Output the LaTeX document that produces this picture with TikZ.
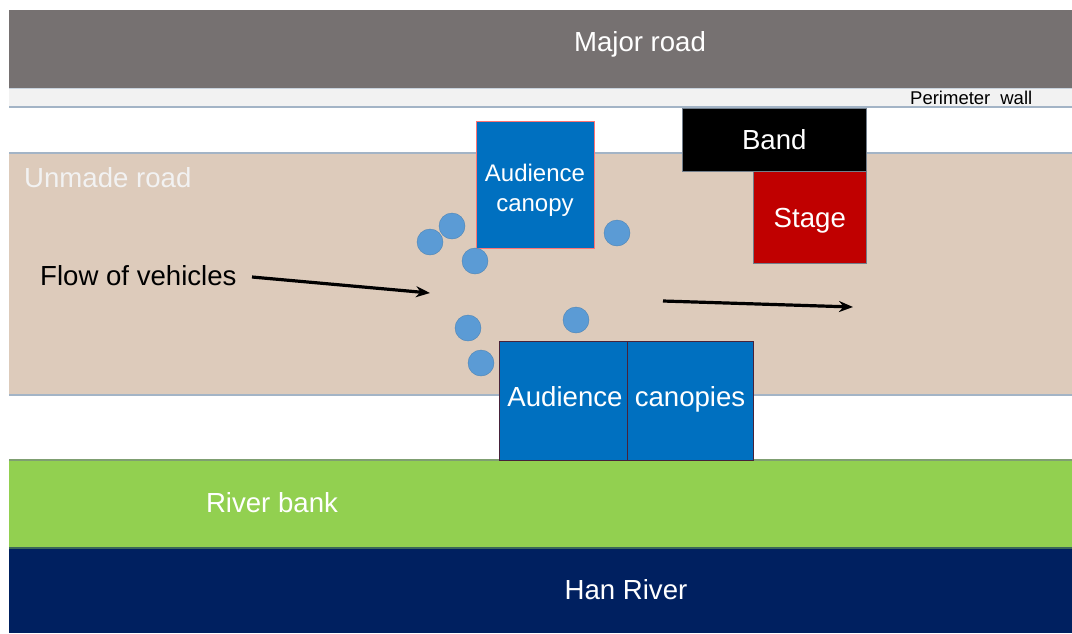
\documentclass[tikz,border=0pt]{standalone}
\usepackage{fontspec}
\setmainfont{Liberation Sans}
\usetikzlibrary{arrows.meta}
\definecolor{roadgrey}{HTML}{767171}
\definecolor{wallgrey}{HTML}{F2F2F2}
\definecolor{edgeblue}{HTML}{A3B4C6}
\definecolor{dirt}{HTML}{DDCBBB}
\definecolor{grass}{HTML}{92D050}
\definecolor{river}{HTML}{002060}
\definecolor{canopyblue}{HTML}{0070C0}
\definecolor{carblue}{HTML}{5B9BD5}
\definecolor{stagered}{HTML}{C00000}
\begin{document}
\begin{tikzpicture}[x=1pt,y=-1pt,
  strip/.style={draw=edgeblue,line width=1.2pt},
  block/.style={rectangle,inner sep=0pt,anchor=north west},
  car/.style={circle,fill=carblue,draw=carblue!85!black,line width=0.4pt,minimum size=26pt,inner sep=0pt},
  label/.style={font=\fontsize{27.6}{30}\selectfont,inner sep=0pt,text height=19.9pt,text depth=0pt},
  flow/.style={line width=3.2pt,-{Stealth[length=14pt,width=11pt]}}
]
\useasboundingbox (0,0) rectangle (1072,633);
\fill[white] (0,0) rectangle (1072,633);

% horizontal strips of the site
\fill[roadgrey] (9,10) rectangle (1072,88);
\fill[wallgrey] (9,88) rectangle (1072,107);
\draw[strip,draw=edgeblue!60] (9,88.5) -- (1072,88.5);
\draw[strip] (9,107) -- (1072,107);
\fill[dirt] (9,153) rectangle (1072,395);
\draw[strip] (9,153) -- (1072,153);
\draw[strip] (9,395) -- (1072,395);
\fill[grass] (9,460) rectangle (1072,548);
\draw[strip,draw=grass!70!black!60!edgeblue] (9,460) -- (1072,460);
\fill[river] (9,548) rectangle (1072,633);
\draw[strip,draw=river!60!grass] (9,548) -- (1072,548);

\node[label,text=white] (major) at (640,42) {Major road};
\node[font=\fontsize{18.5}{20}\selectfont,inner sep=0pt,anchor=west,text height=13.3pt,text depth=0pt] (wall) at (910,98) {Perimeter\hspace{10pt}wall};
\node[label,text=wallgrey,anchor=west] (unmade) at (24,178) {Unmade road};
\node[label,text=white] (bank) at (272,503) {River bank};
\node[label,text=white] (han) at (626,590) {Han River};

% stage area
\node[block,fill=black,draw=edgeblue!70!black,line width=0.6pt,minimum width=184pt,minimum height=63pt] (band) at (682,108) {};
\node[label,text=white] at (band.center) {Band};
\node[block,fill=stagered,draw=edgeblue!70!black,line width=0.6pt,minimum width=113pt,minimum height=92pt] (stage) at (753,171) {};
\node[label,text=white] at (stage.center) {Stage};

% audience canopies
\node[block,fill=canopyblue,draw=red!55,line width=0.8pt,minimum width=118pt,minimum height=127pt] (canopy) at (476,121) {};
\node[font=\fontsize{24}{30}\selectfont,text=white,align=center,inner sep=0pt] at (535,190) {Audience\\canopy};
\node[block,fill=canopyblue,draw=red!40!black!70!canopyblue,line width=0.8pt,minimum width=128pt,minimum height=119pt] (canleft) at (499,341) {};
\node[block,fill=canopyblue,draw=red!40!black!70!canopyblue,line width=0.8pt,minimum width=126pt,minimum height=119pt] (canright) at (627,341) {};
\node[label,text=white] at (565,397) {Audience};
\node[label,text=white] at (690,397) {canopies};

% vehicles
\node[car] (c1) at (430,242) {};
\node[car] (c2) at (452,226) {};
\node[car] (c3) at (475,261) {};
\node[car] (c4) at (617,233) {};
\node[car] (c5) at (468,328) {};
\node[car] (c6) at (576,320) {};
\node[car] (c7) at (481,363) {};

% direction of traffic
\node[label,anchor=west] (flowtext) at (40,276) {Flow of vehicles};
\coordinate (f1a) at (252,277);
\coordinate (f1b) at (430,293);
\coordinate (f2a) at (663,301);
\coordinate (f2b) at (853,307);
\draw[flow] (f1a) -- (f1b);
\draw[flow] (f2a) -- (f2b);
\end{tikzpicture}
\end{document}
